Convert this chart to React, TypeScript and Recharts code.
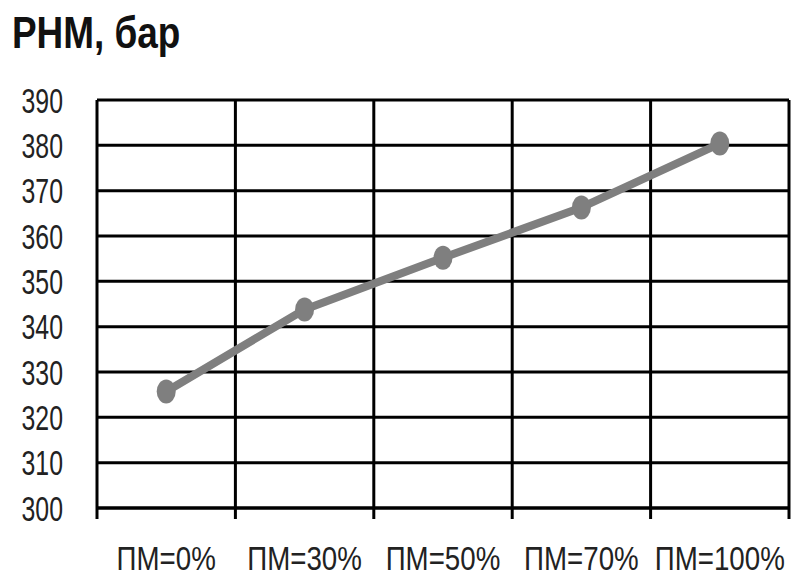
import React from 'react';
import { LineChart, Line, XAxis, YAxis, CartesianGrid } from 'recharts';

const categories = ['ПМ=0%', 'ПМ=30%', 'ПМ=50%', 'ПМ=70%', 'ПМ=100%'];
const rnmValues = [325.7, 343.8, 355.2, 366.3, 380.4];
const yTicks = [300, 310, 320, 330, 340, 350, 360, 370, 380, 390];

const data = categories.map((name, i) => ({ name, rnm: rnmValues[i] }));

const W = 792;
const H = 576;
const PLOT_LEFT = 97;
const PLOT_RIGHT = 3;
const PLOT_W = W - PLOT_LEFT - PLOT_RIGHT;
const BAND = PLOT_W / categories.length;
// no narrow face available, so labels are squeezed horizontally instead
const FONT = "'Liberation Sans', Arial, sans-serif";
const GREY = '#7f7f7f';

function XTick(props: any) {
  const { x, y, payload, index } = props;
  const last = index === categories.length - 1;
  return (
    <g>
      <line x1={x - BAND / 2} x2={x - BAND / 2} y1={y} y2={y + 11} stroke="#000" strokeWidth={3} />
      {last && (
        <line x1={x + BAND / 2} x2={x + BAND / 2} y1={y} y2={y + 11} stroke="#000" strokeWidth={3} />
      )}
      <text
        x={0}
        y={0}
        transform={`translate(${x},${y + 62}) scale(0.84,1)`}
        textAnchor="middle"
        fontFamily={FONT}
        fontSize={33}
        fill="#222"
      >
        {payload.value}
      </text>
    </g>
  );
}

function YTick(props: any) {
  const { x, y, payload } = props;
  return (
    <text
      x={0}
      y={0}
      dy={12.5}
      transform={`translate(${x},${y}) scale(0.71,1)`}
      textAnchor="end"
      fontFamily={FONT}
      fontSize={35}
      fill="#222"
    >
      {payload.value}
    </text>
  );
}

function Dot(props: any) {
  const { cx, cy } = props;
  if (cx == null || cy == null) return null;
  return <ellipse cx={cx} cy={cy} rx={9.5} ry={12} fill={GREY} />;
}

export default function App() {
  return (
    <div style={{ position: 'absolute', left: 0, top: 0, width: W, height: H, background: '#fff' }}>
      <div
        style={{
          position: 'absolute',
          left: 12,
          top: 10,
          fontFamily: FONT,
          fontWeight: 'bold',
          fontSize: 45,
          lineHeight: 1,
          color: '#111',
          whiteSpace: 'nowrap',
          transform: 'scaleX(0.82)',
          transformOrigin: 'left top',
        }}
      >
        РНМ, бар
      </div>
      <LineChart
        width={W}
        height={H}
        data={data}
        margin={{ top: 100, right: PLOT_RIGHT, bottom: 0, left: 0 }}
      >
        <CartesianGrid
          stroke="#000"
          strokeWidth={3}
          verticalCoordinatesGenerator={({ offset }: any) =>
            categories.map((_, i) => offset.left + (i + 1) * (offset.width / categories.length))
          }
        />
        <XAxis
          dataKey="name"
          scale="band"
          height={68}
          axisLine={{ stroke: '#000', strokeWidth: 3 }}
          tickLine={false}
          tickSize={0}
          tickMargin={0}
          interval={0}
          tick={<XTick />}
        />
        <YAxis
          width={PLOT_LEFT}
          domain={[300, 390]}
          ticks={yTicks}
          interval={0}
          axisLine={{ stroke: '#000', strokeWidth: 3 }}
          tickLine={false}
          tickSize={0}
          tickMargin={34}
          tick={<YTick />}
        />
        <Line
          type="linear"
          dataKey="rnm"
          stroke={GREY}
          strokeWidth={8}
          strokeLinejoin="round"
          dot={<Dot />}
          activeDot={false}
          isAnimationActive={false}
        />
      </LineChart>
    </div>
  );
}
